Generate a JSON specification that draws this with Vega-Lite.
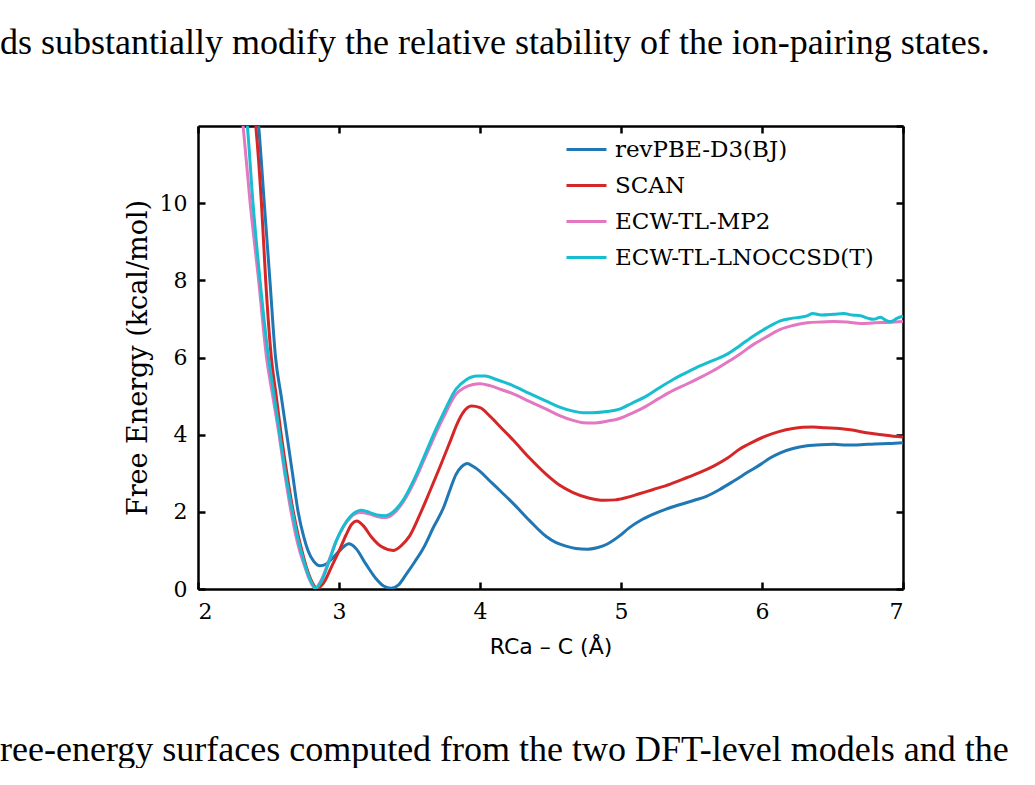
{
  "$schema": "https://vega.github.io/schema/vega-lite/v6.json",
  "background": "white",
  "padding": {"left": 0, "top": 25, "right": 0, "bottom": 0},
  "config": {
    "view": {"stroke": null},
    "font": "DejaVu Serif",
    "title": {"fontWeight": "normal", "color": "black"}
  },
  "datasets": {
    "curves": [
      {"r": 2.40, "e": 13.0, "m": "revPBE-D3(BJ)"},
      {"r": 2.43, "e": 12.0, "m": "revPBE-D3(BJ)"},
      {"r": 2.47, "e": 10.0, "m": "revPBE-D3(BJ)"},
      {"r": 2.51, "e": 8.0, "m": "revPBE-D3(BJ)"},
      {"r": 2.55, "e": 6.0, "m": "revPBE-D3(BJ)"},
      {"r": 2.59, "e": 5.0, "m": "revPBE-D3(BJ)"},
      {"r": 2.63, "e": 4.0, "m": "revPBE-D3(BJ)"},
      {"r": 2.67, "e": 3.0, "m": "revPBE-D3(BJ)"},
      {"r": 2.71, "e": 2.0, "m": "revPBE-D3(BJ)"},
      {"r": 2.75, "e": 1.35, "m": "revPBE-D3(BJ)"},
      {"r": 2.78, "e": 1.0, "m": "revPBE-D3(BJ)"},
      {"r": 2.82, "e": 0.72, "m": "revPBE-D3(BJ)"},
      {"r": 2.865, "e": 0.6, "m": "revPBE-D3(BJ)"},
      {"r": 2.91, "e": 0.65, "m": "revPBE-D3(BJ)"},
      {"r": 2.96, "e": 0.82, "m": "revPBE-D3(BJ)"},
      {"r": 3.02, "e": 1.05, "m": "revPBE-D3(BJ)"},
      {"r": 3.07, "e": 1.17, "m": "revPBE-D3(BJ)"},
      {"r": 3.12, "e": 1.05, "m": "revPBE-D3(BJ)"},
      {"r": 3.19, "e": 0.65, "m": "revPBE-D3(BJ)"},
      {"r": 3.26, "e": 0.28, "m": "revPBE-D3(BJ)"},
      {"r": 3.32, "e": 0.07, "m": "revPBE-D3(BJ)"},
      {"r": 3.37, "e": 0.02, "m": "revPBE-D3(BJ)"},
      {"r": 3.42, "e": 0.1, "m": "revPBE-D3(BJ)"},
      {"r": 3.48, "e": 0.4, "m": "revPBE-D3(BJ)"},
      {"r": 3.54, "e": 0.72, "m": "revPBE-D3(BJ)"},
      {"r": 3.60, "e": 1.07, "m": "revPBE-D3(BJ)"},
      {"r": 3.67, "e": 1.6, "m": "revPBE-D3(BJ)"},
      {"r": 3.74, "e": 2.1, "m": "revPBE-D3(BJ)"},
      {"r": 3.79, "e": 2.6, "m": "revPBE-D3(BJ)"},
      {"r": 3.83, "e": 2.97, "m": "revPBE-D3(BJ)"},
      {"r": 3.87, "e": 3.17, "m": "revPBE-D3(BJ)"},
      {"r": 3.91, "e": 3.25, "m": "revPBE-D3(BJ)"},
      {"r": 3.95, "e": 3.18, "m": "revPBE-D3(BJ)"},
      {"r": 4.00, "e": 3.05, "m": "revPBE-D3(BJ)"},
      {"r": 4.07, "e": 2.80, "m": "revPBE-D3(BJ)"},
      {"r": 4.15, "e": 2.52, "m": "revPBE-D3(BJ)"},
      {"r": 4.24, "e": 2.20, "m": "revPBE-D3(BJ)"},
      {"r": 4.35, "e": 1.78, "m": "revPBE-D3(BJ)"},
      {"r": 4.47, "e": 1.36, "m": "revPBE-D3(BJ)"},
      {"r": 4.54, "e": 1.2, "m": "revPBE-D3(BJ)"},
      {"r": 4.61, "e": 1.11, "m": "revPBE-D3(BJ)"},
      {"r": 4.68, "e": 1.05, "m": "revPBE-D3(BJ)"},
      {"r": 4.76, "e": 1.03, "m": "revPBE-D3(BJ)"},
      {"r": 4.83, "e": 1.07, "m": "revPBE-D3(BJ)"},
      {"r": 4.90, "e": 1.16, "m": "revPBE-D3(BJ)"},
      {"r": 4.98, "e": 1.35, "m": "revPBE-D3(BJ)"},
      {"r": 5.06, "e": 1.59, "m": "revPBE-D3(BJ)"},
      {"r": 5.15, "e": 1.80, "m": "revPBE-D3(BJ)"},
      {"r": 5.23, "e": 1.94, "m": "revPBE-D3(BJ)"},
      {"r": 5.32, "e": 2.07, "m": "revPBE-D3(BJ)"},
      {"r": 5.42, "e": 2.19, "m": "revPBE-D3(BJ)"},
      {"r": 5.52, "e": 2.30, "m": "revPBE-D3(BJ)"},
      {"r": 5.61, "e": 2.41, "m": "revPBE-D3(BJ)"},
      {"r": 5.70, "e": 2.58, "m": "revPBE-D3(BJ)"},
      {"r": 5.80, "e": 2.80, "m": "revPBE-D3(BJ)"},
      {"r": 5.90, "e": 3.03, "m": "revPBE-D3(BJ)"},
      {"r": 5.99, "e": 3.23, "m": "revPBE-D3(BJ)"},
      {"r": 6.06, "e": 3.40, "m": "revPBE-D3(BJ)"},
      {"r": 6.13, "e": 3.53, "m": "revPBE-D3(BJ)"},
      {"r": 6.22, "e": 3.64, "m": "revPBE-D3(BJ)"},
      {"r": 6.32, "e": 3.71, "m": "revPBE-D3(BJ)"},
      {"r": 6.42, "e": 3.74, "m": "revPBE-D3(BJ)"},
      {"r": 6.51, "e": 3.75, "m": "revPBE-D3(BJ)"},
      {"r": 6.60, "e": 3.73, "m": "revPBE-D3(BJ)"},
      {"r": 6.70, "e": 3.74, "m": "revPBE-D3(BJ)"},
      {"r": 6.80, "e": 3.76, "m": "revPBE-D3(BJ)"},
      {"r": 6.90, "e": 3.77, "m": "revPBE-D3(BJ)"},
      {"r": 7.00, "e": 3.79, "m": "revPBE-D3(BJ)"},

      {"r": 2.38, "e": 13.0, "m": "SCAN"},
      {"r": 2.41, "e": 12.0, "m": "SCAN"},
      {"r": 2.45, "e": 10.0, "m": "SCAN"},
      {"r": 2.48, "e": 8.0, "m": "SCAN"},
      {"r": 2.52, "e": 6.0, "m": "SCAN"},
      {"r": 2.555, "e": 5.0, "m": "SCAN"},
      {"r": 2.59, "e": 4.0, "m": "SCAN"},
      {"r": 2.63, "e": 3.0, "m": "SCAN"},
      {"r": 2.676, "e": 2.0, "m": "SCAN"},
      {"r": 2.71, "e": 1.4, "m": "SCAN"},
      {"r": 2.74, "e": 0.95, "m": "SCAN"},
      {"r": 2.77, "e": 0.55, "m": "SCAN"},
      {"r": 2.80, "e": 0.25, "m": "SCAN"},
      {"r": 2.845, "e": 0.02, "m": "SCAN"},
      {"r": 2.89, "e": 0.15, "m": "SCAN"},
      {"r": 2.95, "e": 0.6, "m": "SCAN"},
      {"r": 3.00, "e": 0.98, "m": "SCAN"},
      {"r": 3.05, "e": 1.4, "m": "SCAN"},
      {"r": 3.09, "e": 1.68, "m": "SCAN"},
      {"r": 3.125, "e": 1.76, "m": "SCAN"},
      {"r": 3.17, "e": 1.65, "m": "SCAN"},
      {"r": 3.23, "e": 1.35, "m": "SCAN"},
      {"r": 3.30, "e": 1.1, "m": "SCAN"},
      {"r": 3.385, "e": 1.0, "m": "SCAN"},
      {"r": 3.44, "e": 1.12, "m": "SCAN"},
      {"r": 3.50, "e": 1.37, "m": "SCAN"},
      {"r": 3.57, "e": 1.9, "m": "SCAN"},
      {"r": 3.645, "e": 2.54, "m": "SCAN"},
      {"r": 3.72, "e": 3.2, "m": "SCAN"},
      {"r": 3.79, "e": 3.84, "m": "SCAN"},
      {"r": 3.84, "e": 4.3, "m": "SCAN"},
      {"r": 3.88, "e": 4.57, "m": "SCAN"},
      {"r": 3.94, "e": 4.74, "m": "SCAN"},
      {"r": 4.00, "e": 4.70, "m": "SCAN"},
      {"r": 4.07, "e": 4.48, "m": "SCAN"},
      {"r": 4.15, "e": 4.18, "m": "SCAN"},
      {"r": 4.24, "e": 3.84, "m": "SCAN"},
      {"r": 4.35, "e": 3.40, "m": "SCAN"},
      {"r": 4.47, "e": 2.97, "m": "SCAN"},
      {"r": 4.56, "e": 2.70, "m": "SCAN"},
      {"r": 4.66, "e": 2.50, "m": "SCAN"},
      {"r": 4.77, "e": 2.36, "m": "SCAN"},
      {"r": 4.88, "e": 2.30, "m": "SCAN"},
      {"r": 4.96, "e": 2.31, "m": "SCAN"},
      {"r": 5.04, "e": 2.37, "m": "SCAN"},
      {"r": 5.13, "e": 2.47, "m": "SCAN"},
      {"r": 5.23, "e": 2.58, "m": "SCAN"},
      {"r": 5.35, "e": 2.72, "m": "SCAN"},
      {"r": 5.47, "e": 2.89, "m": "SCAN"},
      {"r": 5.56, "e": 3.02, "m": "SCAN"},
      {"r": 5.66, "e": 3.19, "m": "SCAN"},
      {"r": 5.75, "e": 3.38, "m": "SCAN"},
      {"r": 5.84, "e": 3.62, "m": "SCAN"},
      {"r": 5.93, "e": 3.80, "m": "SCAN"},
      {"r": 6.03, "e": 3.97, "m": "SCAN"},
      {"r": 6.12, "e": 4.08, "m": "SCAN"},
      {"r": 6.22, "e": 4.16, "m": "SCAN"},
      {"r": 6.29, "e": 4.19, "m": "SCAN"},
      {"r": 6.36, "e": 4.20, "m": "SCAN"},
      {"r": 6.45, "e": 4.18, "m": "SCAN"},
      {"r": 6.55, "e": 4.16, "m": "SCAN"},
      {"r": 6.64, "e": 4.12, "m": "SCAN"},
      {"r": 6.74, "e": 4.05, "m": "SCAN"},
      {"r": 6.85, "e": 4.00, "m": "SCAN"},
      {"r": 6.93, "e": 3.96, "m": "SCAN"},
      {"r": 7.00, "e": 3.94, "m": "SCAN"},

      {"r": 2.29, "e": 13.0, "m": "ECW-TL-MP2"},
      {"r": 2.32, "e": 12.0, "m": "ECW-TL-MP2"},
      {"r": 2.37, "e": 10.0, "m": "ECW-TL-MP2"},
      {"r": 2.43, "e": 8.0, "m": "ECW-TL-MP2"},
      {"r": 2.486, "e": 6.0, "m": "ECW-TL-MP2"},
      {"r": 2.53, "e": 5.0, "m": "ECW-TL-MP2"},
      {"r": 2.575, "e": 4.0, "m": "ECW-TL-MP2"},
      {"r": 2.615, "e": 3.0, "m": "ECW-TL-MP2"},
      {"r": 2.66, "e": 2.0, "m": "ECW-TL-MP2"},
      {"r": 2.69, "e": 1.45, "m": "ECW-TL-MP2"},
      {"r": 2.72, "e": 1.0, "m": "ECW-TL-MP2"},
      {"r": 2.76, "e": 0.55, "m": "ECW-TL-MP2"},
      {"r": 2.79, "e": 0.25, "m": "ECW-TL-MP2"},
      {"r": 2.83, "e": 0.02, "m": "ECW-TL-MP2"},
      {"r": 2.87, "e": 0.2, "m": "ECW-TL-MP2"},
      {"r": 2.93, "e": 0.75, "m": "ECW-TL-MP2"},
      {"r": 2.98, "e": 1.24, "m": "ECW-TL-MP2"},
      {"r": 3.03, "e": 1.6, "m": "ECW-TL-MP2"},
      {"r": 3.08, "e": 1.85, "m": "ECW-TL-MP2"},
      {"r": 3.15, "e": 1.98, "m": "ECW-TL-MP2"},
      {"r": 3.21, "e": 1.95, "m": "ECW-TL-MP2"},
      {"r": 3.27, "e": 1.88, "m": "ECW-TL-MP2"},
      {"r": 3.33, "e": 1.85, "m": "ECW-TL-MP2"},
      {"r": 3.40, "e": 2.0, "m": "ECW-TL-MP2"},
      {"r": 3.46, "e": 2.28, "m": "ECW-TL-MP2"},
      {"r": 3.53, "e": 2.75, "m": "ECW-TL-MP2"},
      {"r": 3.60, "e": 3.32, "m": "ECW-TL-MP2"},
      {"r": 3.67, "e": 3.9, "m": "ECW-TL-MP2"},
      {"r": 3.74, "e": 4.44, "m": "ECW-TL-MP2"},
      {"r": 3.83, "e": 5.05, "m": "ECW-TL-MP2"},
      {"r": 3.89, "e": 5.22, "m": "ECW-TL-MP2"},
      {"r": 3.95, "e": 5.30, "m": "ECW-TL-MP2"},
      {"r": 4.00, "e": 5.32, "m": "ECW-TL-MP2"},
      {"r": 4.07, "e": 5.27, "m": "ECW-TL-MP2"},
      {"r": 4.15, "e": 5.17, "m": "ECW-TL-MP2"},
      {"r": 4.24, "e": 5.05, "m": "ECW-TL-MP2"},
      {"r": 4.35, "e": 4.86, "m": "ECW-TL-MP2"},
      {"r": 4.47, "e": 4.66, "m": "ECW-TL-MP2"},
      {"r": 4.56, "e": 4.50, "m": "ECW-TL-MP2"},
      {"r": 4.66, "e": 4.37, "m": "ECW-TL-MP2"},
      {"r": 4.73, "e": 4.31, "m": "ECW-TL-MP2"},
      {"r": 4.80, "e": 4.30, "m": "ECW-TL-MP2"},
      {"r": 4.90, "e": 4.35, "m": "ECW-TL-MP2"},
      {"r": 4.99, "e": 4.42, "m": "ECW-TL-MP2"},
      {"r": 5.08, "e": 4.56, "m": "ECW-TL-MP2"},
      {"r": 5.18, "e": 4.74, "m": "ECW-TL-MP2"},
      {"r": 5.27, "e": 4.94, "m": "ECW-TL-MP2"},
      {"r": 5.37, "e": 5.15, "m": "ECW-TL-MP2"},
      {"r": 5.46, "e": 5.30, "m": "ECW-TL-MP2"},
      {"r": 5.56, "e": 5.48, "m": "ECW-TL-MP2"},
      {"r": 5.65, "e": 5.65, "m": "ECW-TL-MP2"},
      {"r": 5.75, "e": 5.87, "m": "ECW-TL-MP2"},
      {"r": 5.84, "e": 6.08, "m": "ECW-TL-MP2"},
      {"r": 5.94, "e": 6.34, "m": "ECW-TL-MP2"},
      {"r": 6.03, "e": 6.53, "m": "ECW-TL-MP2"},
      {"r": 6.13, "e": 6.73, "m": "ECW-TL-MP2"},
      {"r": 6.22, "e": 6.83, "m": "ECW-TL-MP2"},
      {"r": 6.32, "e": 6.90, "m": "ECW-TL-MP2"},
      {"r": 6.42, "e": 6.92, "m": "ECW-TL-MP2"},
      {"r": 6.51, "e": 6.93, "m": "ECW-TL-MP2"},
      {"r": 6.60, "e": 6.92, "m": "ECW-TL-MP2"},
      {"r": 6.70, "e": 6.88, "m": "ECW-TL-MP2"},
      {"r": 6.80, "e": 6.90, "m": "ECW-TL-MP2"},
      {"r": 6.90, "e": 6.91, "m": "ECW-TL-MP2"},
      {"r": 7.00, "e": 6.93, "m": "ECW-TL-MP2"},

      {"r": 2.32, "e": 13.0, "m": "ECW-TL-LNOCCSD(T)"},
      {"r": 2.35, "e": 12.0, "m": "ECW-TL-LNOCCSD(T)"},
      {"r": 2.39, "e": 10.0, "m": "ECW-TL-LNOCCSD(T)"},
      {"r": 2.44, "e": 8.0, "m": "ECW-TL-LNOCCSD(T)"},
      {"r": 2.50, "e": 6.0, "m": "ECW-TL-LNOCCSD(T)"},
      {"r": 2.54, "e": 5.0, "m": "ECW-TL-LNOCCSD(T)"},
      {"r": 2.58, "e": 4.0, "m": "ECW-TL-LNOCCSD(T)"},
      {"r": 2.62, "e": 3.0, "m": "ECW-TL-LNOCCSD(T)"},
      {"r": 2.67, "e": 2.0, "m": "ECW-TL-LNOCCSD(T)"},
      {"r": 2.70, "e": 1.45, "m": "ECW-TL-LNOCCSD(T)"},
      {"r": 2.73, "e": 1.0, "m": "ECW-TL-LNOCCSD(T)"},
      {"r": 2.765, "e": 0.55, "m": "ECW-TL-LNOCCSD(T)"},
      {"r": 2.795, "e": 0.25, "m": "ECW-TL-LNOCCSD(T)"},
      {"r": 2.835, "e": 0.02, "m": "ECW-TL-LNOCCSD(T)"},
      {"r": 2.875, "e": 0.2, "m": "ECW-TL-LNOCCSD(T)"},
      {"r": 2.93, "e": 0.72, "m": "ECW-TL-LNOCCSD(T)"},
      {"r": 2.98, "e": 1.24, "m": "ECW-TL-LNOCCSD(T)"},
      {"r": 3.03, "e": 1.62, "m": "ECW-TL-LNOCCSD(T)"},
      {"r": 3.08, "e": 1.88, "m": "ECW-TL-LNOCCSD(T)"},
      {"r": 3.16, "e": 2.04, "m": "ECW-TL-LNOCCSD(T)"},
      {"r": 3.22, "e": 1.98, "m": "ECW-TL-LNOCCSD(T)"},
      {"r": 3.27, "e": 1.92, "m": "ECW-TL-LNOCCSD(T)"},
      {"r": 3.33, "e": 1.9, "m": "ECW-TL-LNOCCSD(T)"},
      {"r": 3.40, "e": 2.05, "m": "ECW-TL-LNOCCSD(T)"},
      {"r": 3.46, "e": 2.33, "m": "ECW-TL-LNOCCSD(T)"},
      {"r": 3.53, "e": 2.82, "m": "ECW-TL-LNOCCSD(T)"},
      {"r": 3.60, "e": 3.40, "m": "ECW-TL-LNOCCSD(T)"},
      {"r": 3.67, "e": 4.0, "m": "ECW-TL-LNOCCSD(T)"},
      {"r": 3.74, "e": 4.55, "m": "ECW-TL-LNOCCSD(T)"},
      {"r": 3.83, "e": 5.18, "m": "ECW-TL-LNOCCSD(T)"},
      {"r": 3.90, "e": 5.42, "m": "ECW-TL-LNOCCSD(T)"},
      {"r": 3.98, "e": 5.52, "m": "ECW-TL-LNOCCSD(T)"},
      {"r": 4.04, "e": 5.52, "m": "ECW-TL-LNOCCSD(T)"},
      {"r": 4.10, "e": 5.45, "m": "ECW-TL-LNOCCSD(T)"},
      {"r": 4.17, "e": 5.36, "m": "ECW-TL-LNOCCSD(T)"},
      {"r": 4.24, "e": 5.26, "m": "ECW-TL-LNOCCSD(T)"},
      {"r": 4.35, "e": 5.07, "m": "ECW-TL-LNOCCSD(T)"},
      {"r": 4.47, "e": 4.87, "m": "ECW-TL-LNOCCSD(T)"},
      {"r": 4.56, "e": 4.72, "m": "ECW-TL-LNOCCSD(T)"},
      {"r": 4.66, "e": 4.61, "m": "ECW-TL-LNOCCSD(T)"},
      {"r": 4.73, "e": 4.57, "m": "ECW-TL-LNOCCSD(T)"},
      {"r": 4.80, "e": 4.57, "m": "ECW-TL-LNOCCSD(T)"},
      {"r": 4.90, "e": 4.60, "m": "ECW-TL-LNOCCSD(T)"},
      {"r": 4.99, "e": 4.66, "m": "ECW-TL-LNOCCSD(T)"},
      {"r": 5.08, "e": 4.82, "m": "ECW-TL-LNOCCSD(T)"},
      {"r": 5.18, "e": 5.00, "m": "ECW-TL-LNOCCSD(T)"},
      {"r": 5.27, "e": 5.21, "m": "ECW-TL-LNOCCSD(T)"},
      {"r": 5.37, "e": 5.43, "m": "ECW-TL-LNOCCSD(T)"},
      {"r": 5.46, "e": 5.60, "m": "ECW-TL-LNOCCSD(T)"},
      {"r": 5.56, "e": 5.78, "m": "ECW-TL-LNOCCSD(T)"},
      {"r": 5.65, "e": 5.92, "m": "ECW-TL-LNOCCSD(T)"},
      {"r": 5.75, "e": 6.08, "m": "ECW-TL-LNOCCSD(T)"},
      {"r": 5.84, "e": 6.30, "m": "ECW-TL-LNOCCSD(T)"},
      {"r": 5.94, "e": 6.56, "m": "ECW-TL-LNOCCSD(T)"},
      {"r": 6.03, "e": 6.76, "m": "ECW-TL-LNOCCSD(T)"},
      {"r": 6.13, "e": 6.95, "m": "ECW-TL-LNOCCSD(T)"},
      {"r": 6.22, "e": 7.02, "m": "ECW-TL-LNOCCSD(T)"},
      {"r": 6.32, "e": 7.08, "m": "ECW-TL-LNOCCSD(T)"},
      {"r": 6.36, "e": 7.14, "m": "ECW-TL-LNOCCSD(T)"},
      {"r": 6.42, "e": 7.10, "m": "ECW-TL-LNOCCSD(T)"},
      {"r": 6.51, "e": 7.12, "m": "ECW-TL-LNOCCSD(T)"},
      {"r": 6.58, "e": 7.14, "m": "ECW-TL-LNOCCSD(T)"},
      {"r": 6.64, "e": 7.10, "m": "ECW-TL-LNOCCSD(T)"},
      {"r": 6.70, "e": 7.08, "m": "ECW-TL-LNOCCSD(T)"},
      {"r": 6.75, "e": 7.02, "m": "ECW-TL-LNOCCSD(T)"},
      {"r": 6.79, "e": 6.99, "m": "ECW-TL-LNOCCSD(T)"},
      {"r": 6.84, "e": 7.04, "m": "ECW-TL-LNOCCSD(T)"},
      {"r": 6.88, "e": 6.96, "m": "ECW-TL-LNOCCSD(T)"},
      {"r": 6.91, "e": 6.93, "m": "ECW-TL-LNOCCSD(T)"},
      {"r": 6.96, "e": 7.02, "m": "ECW-TL-LNOCCSD(T)"},
      {"r": 7.00, "e": 7.08, "m": "ECW-TL-LNOCCSD(T)"}
    ]
  },
  "title": {
    "text": "ree-energy surfaces computed from the two DFT-level models and the",
    "orient": "bottom",
    "anchor": "start",
    "frame": "group",
    "dx": -198,
    "font": "Liberation Serif",
    "fontSize": 36,
    "offset": 76
  },
  "vconcat": [
    {
      "title": {
        "text": "ds substantially modify the relative stability of the ion-pairing states.",
        "anchor": "start",
        "frame": "group",
        "dx": -198,
        "font": "Liberation Serif",
        "fontSize": 36,
        "offset": 25
      },
      "width": 705,
      "height": 463,
      "data": {"name": "curves"},
      "layer": [
        {
          "mark": {"type": "line", "clip": true, "strokeWidth": 3, "interpolate": "monotone"},
          "encoding": {
            "x": {
              "field": "r", "type": "quantitative",
              "scale": {"domain": [2, 7], "nice": false, "zero": false},
              "axis": {
                "orient": "bottom", "values": [2, 3, 4, 5, 6, 7], "format": "d",
                "grid": false, "domainColor": "black", "domainWidth": 2.5,
                "tickColor": "black", "tickWidth": 2.5, "tickSize": -7,
                "labelFont": "DejaVu Serif", "labelFontSize": 22, "labelColor": "black", "labelPadding": 19,
                "title": "RCa – C (Å)", "titleFont": "DejaVu Sans", "titleFontSize": 22,
                "titleFontWeight": "normal", "titleColor": "black", "titlePadding": 14
              }
            },
            "y": {
              "field": "e", "type": "quantitative",
              "scale": {"domain": [0, 12], "nice": false},
              "axis": {
                "orient": "left", "values": [0, 2, 4, 6, 8, 10], "format": "d",
                "grid": false, "domainColor": "black", "domainWidth": 2.5,
                "tickColor": "black", "tickWidth": 2.5, "tickSize": -7,
                "labelFont": "DejaVu Serif", "labelFontSize": 22, "labelColor": "black", "labelPadding": 18,
                "title": "Free Energy (kcal/mol)", "titleFont": "DejaVu Serif", "titleFontSize": 27,
                "titleFontWeight": "normal", "titleColor": "black", "titlePadding": 7
              }
            },
            "color": {
              "field": "m", "type": "nominal",
              "scale": {
                "domain": ["revPBE-D3(BJ)", "SCAN", "ECW-TL-MP2", "ECW-TL-LNOCCSD(T)"],
                "range": ["#1f77b4", "#d62728", "#e377c2", "#17becf"]
              },
              "legend": {
                "title": null, "orient": "none", "legendX": 367, "legendY": 2, "padding": 0,
                "symbolType": "stroke", "symbolSize": 1600, "symbolStrokeWidth": 3,
                "labelFont": "DejaVu Serif", "labelFontSize": 23, "labelColor": "black",
                "labelOffset": 7, "labelLimit": 500, "rowPadding": 2
              }
            }
          }
        },
        {
          "mark": {"type": "line", "strokeOpacity": 0},
          "encoding": {
            "x": {
              "field": "r", "type": "quantitative",
              "axis": {
                "orient": "top", "values": [2, 3, 4, 5, 6, 7], "labels": false, "title": null,
                "grid": false, "domainColor": "black", "domainWidth": 2.5,
                "tickColor": "black", "tickWidth": 2.5, "tickSize": -7
              }
            },
            "y": {
              "field": "e", "type": "quantitative",
              "axis": {
                "orient": "right", "values": [0, 2, 4, 6, 8, 10, 12], "labels": false, "title": null,
                "grid": false, "domainColor": "black", "domainWidth": 2.5,
                "tickColor": "black", "tickWidth": 2.5, "tickSize": -7
              }
            },
            "detail": {"field": "m"}
          }
        }
      ],
      "resolve": {"axis": {"x": "independent", "y": "independent"}}
    }
  ]
}
